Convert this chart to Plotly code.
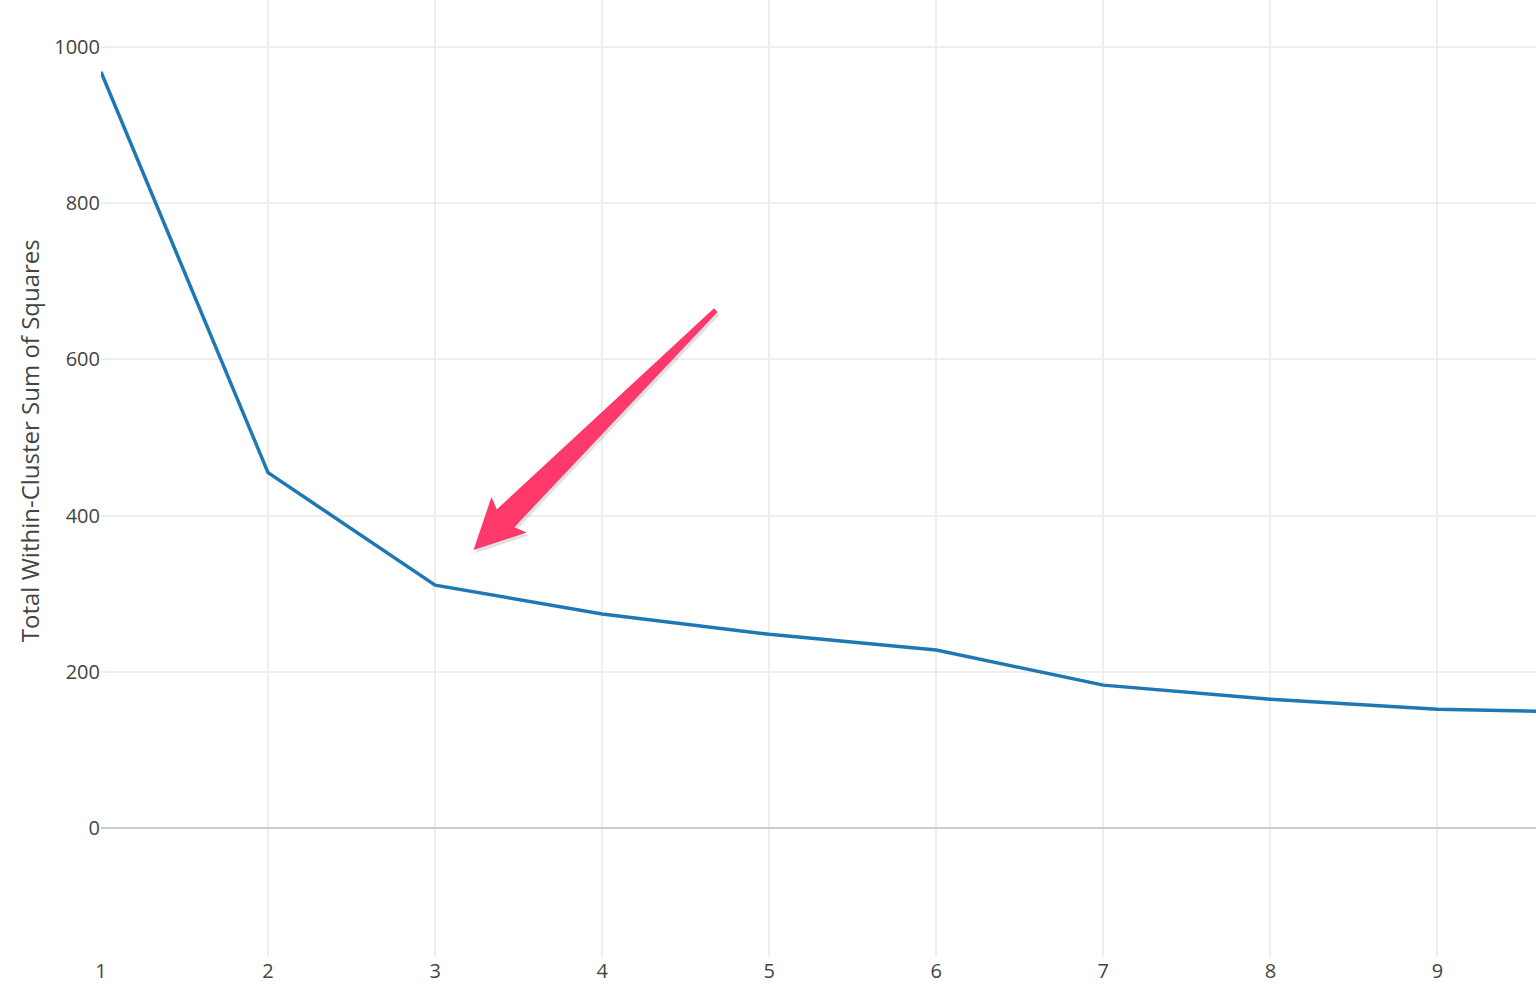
import numpy as np
import plotly.graph_objects as go

# elbow curve values
n_clusters = [1, 2, 3, 4, 5, 6, 7, 8, 9, 10]
wss = [968, 455, 311, 274, 248, 228, 183, 165, 152, 148]
x_ticks = [1, 2, 3, 4, 5, 6, 7, 8, 9]
y_ticks = [0, 200, 400, 600, 800, 1000]
y_title = 'Total Within-Cluster Sum of Squares'

# callout arrow (data coords): tip near the elbow, tail up and to the right
arrow_tip = (3.23, 356)
arrow_tail = (4.68, 663)

WIDTH, HEIGHT = 1536, 1003
MARGIN = dict(l=101, r=0, t=0, b=46)
X_RANGE = [1, 9.59]
Y_RANGE = [-165, 1060]

# pixel scale so the arrow outline can be built in screen space
sx = (WIDTH - MARGIN['l'] - MARGIN['r']) / (X_RANGE[1] - X_RANGE[0])
sy = (HEIGHT - MARGIN['t'] - MARGIN['b']) / (Y_RANGE[1] - Y_RANGE[0])


def arrow_path(tip, tail, off=(0, 0)):
    # vector tip -> tail in pixels (screen y grows downward)
    vx = (tail[0] - tip[0]) * sx
    vy = -(tail[1] - tip[1]) * sy
    length = np.hypot(vx, vy)
    d = np.array([vx, vy]) / length
    n = np.array([-d[1], d[0]])
    # outline in (along, across) pixels
    outline = [(0, 0), (50, 25), (45, 12.5), (length, 2.5),
               (length, -2.5), (45, -12.5), (50, -25)]
    pts = []
    for u, v in outline:
        px = u * d[0] + v * n[0] + off[0]
        py = u * d[1] + v * n[1] + off[1]
        pts.append((tip[0] + px / sx, tip[1] - py / sy))
    return "M " + " L ".join(f"{x},{y}" for x, y in pts) + " Z"


fig = go.Figure()
fig.add_trace(go.Scatter(
    x=n_clusters, y=wss, mode='lines',
    line=dict(color='#1f77b4', width=3.5),
    showlegend=False,
))

# soft shadow then the pink arrow
fig.add_shape(type='path', path=arrow_path(arrow_tip, arrow_tail, off=(2, 3)),
              xref='x', yref='y', fillcolor='rgba(0,0,0,0.12)', line_width=0, layer='above')
fig.add_shape(type='path', path=arrow_path(arrow_tip, arrow_tail),
              xref='x', yref='y', fillcolor='#fd386b', line_width=0, layer='above')

# y title as annotation (original plot area extends above the crop)
fig.add_annotation(
    text=y_title, textangle=-90, showarrow=False,
    xref='paper', yref='paper', x=0, y=0.539,
    xanchor='center', yanchor='middle', xshift=-72,
    font=dict(size=24, color='#444'),
)

fig.update_layout(
    width=WIDTH, height=HEIGHT,
    margin=MARGIN,
    paper_bgcolor='white', plot_bgcolor='white',
    font=dict(family='Open Sans', color='#444', size=20),
    xaxis=dict(
        range=X_RANGE, tickvals=x_ticks,
        showgrid=True, gridcolor='#eeeeee', gridwidth=1.5,
        zeroline=False, showline=False, ticks='',
        tickfont=dict(size=20),
    ),
    yaxis=dict(
        range=Y_RANGE, tickvals=y_ticks,
        showgrid=True, gridcolor='#eeeeee', gridwidth=1.5,
        zeroline=True, zerolinecolor='#cccccc', zerolinewidth=2,
        showline=False, ticks='',
        tickfont=dict(size=20),
        automargin=False,
    ),
)

fig.write_html("out.html", config={'displayModeBar': False},
               post_script="document.body.style.margin='0';")
